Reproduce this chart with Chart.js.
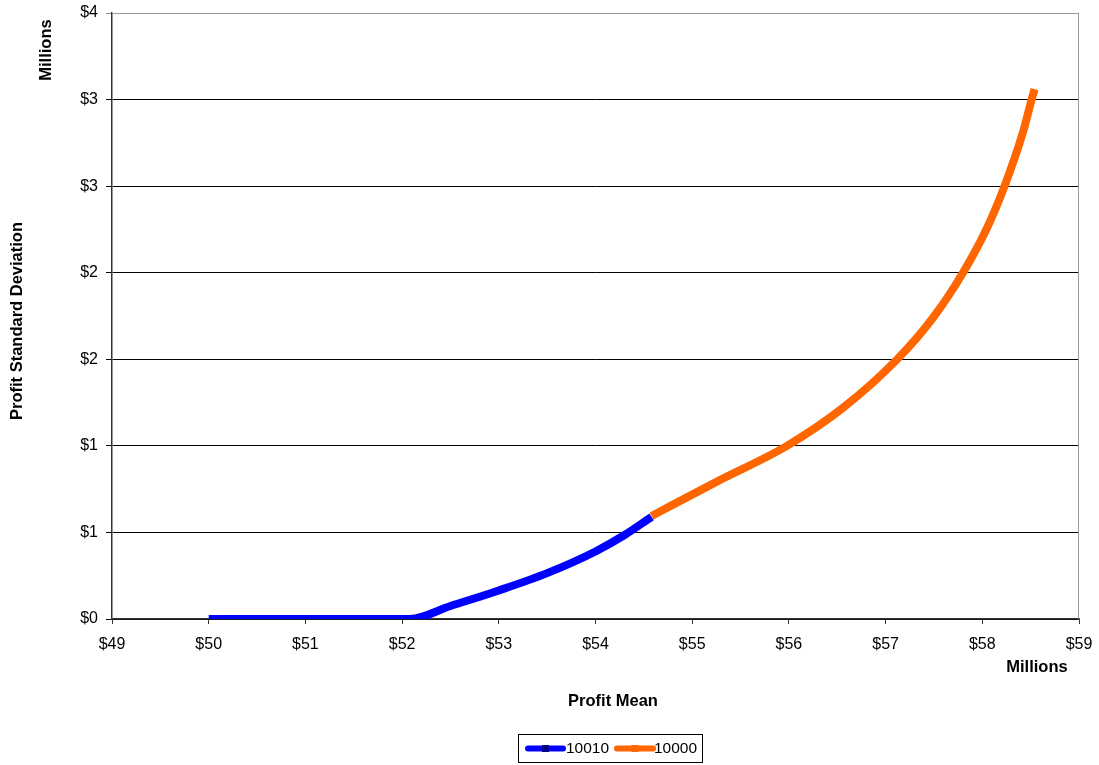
<!DOCTYPE html>
<html lang="en">
<head>
    <meta charset="UTF-8">
    <title>Profit Mean vs Standard Deviation</title>
    <script src="https://cdn.jsdelivr.net/npm/chart.js"></script>
    <style>
        html, body { margin: 0; padding: 0; background: #fff; }
        #wrap { width: 1099px; height: 765px; position: relative; }
    </style>
</head>
<body>
    <div id="wrap"><canvas id="graphique"></canvas></div>

    <script>
        // Values in millions of dollars
        const seriesNames = ['10010', '10000'];
        const meanA = [50, 51, 52.08, 52.5, 53, 53.5, 54, 54.3, 54.58];
        const sdA   = [0, 0, 0, 0.075, 0.165, 0.265, 0.39, 0.485, 0.59];
        const meanB = [54.58, 55.26, 55.98, 56.56, 57.12, 57.49, 57.8, 58.05, 58.23, 58.42, 58.51, 58.54];
        const sdB   = [0.595, 0.795, 1.0, 1.22, 1.5, 1.74, 2.0, 2.26, 2.5, 2.81, 3.0, 3.06];
        const colours = ['#0000FF', '#FF6600'];
        const markerColours = ['#000080', '#FF6600'];

        const toPoints = (xs, ys) => xs.map((x, i) => ({ x: x, y: ys[i] }));

        const FONT = '"Liberation Sans", Arial, sans-serif';

        // Titres, cadre du graphique et légende (style Excel)
        const extras = {
            id: 'extras',
            beforeDatasetsDraw(chart) {
                const a = chart.chartArea, ctx = chart.ctx;
                ctx.save();
                ctx.strokeStyle = '#999';
                ctx.lineWidth = 1;
                ctx.beginPath();
                ctx.moveTo(a.left, a.top + 0.5);
                ctx.lineTo(a.right - 0.5, a.top + 0.5);
                ctx.lineTo(a.right - 0.5, a.bottom);
                ctx.stroke();
                ctx.restore();
            },
            afterDraw(chart) {
                const ctx = chart.ctx;
                ctx.save();
                ctx.fillStyle = '#000';
                ctx.font = 'bold 16.5px ' + FONT;
                ctx.textAlign = 'center';
                ctx.textBaseline = 'middle';
                ctx.fillText('Profit Mean', 613, 701);
                ctx.fillText('Millions', 1037, 667);
                ctx.save();
                ctx.translate(17, 321);
                ctx.rotate(-Math.PI / 2);
                ctx.fillText('Profit Standard Deviation', 0, 0);
                ctx.restore();
                ctx.save();
                ctx.translate(46, 50);
                ctx.rotate(-Math.PI / 2);
                ctx.fillText('Millions', 0, 0);
                ctx.restore();

                // légende
                ctx.strokeStyle = '#000';
                ctx.lineWidth = 1;
                ctx.strokeRect(518.5, 734.5, 184, 28);
                const items = [{ x0: 528, x1: 563, tx: 566 }, { x0: 617, x1: 653, tx: 654 }];
                ctx.font = '15.5px ' + FONT;
                ctx.textAlign = 'left';
                items.forEach((it, i) => {
                    ctx.strokeStyle = colours[i];
                    ctx.lineWidth = 6;
                    ctx.lineCap = 'round';
                    ctx.beginPath();
                    ctx.moveTo(it.x0, 748.5);
                    ctx.lineTo(it.x1, 748.5);
                    ctx.stroke();
                    ctx.fillStyle = markerColours[i];
                    const mx = (it.x0 + it.x1) / 2;
                    ctx.fillRect(mx - 3.5, 745, 7, 7);
                    ctx.fillStyle = '#000';
                    ctx.fillText(chart.data.datasets[i].label, it.tx, 749);
                });
                ctx.restore();
            }
        };

        const lineChartCtx = document.getElementById('graphique').getContext('2d');
        const myChart = new Chart(lineChartCtx, {
            type: 'scatter',
            data: {
                datasets: [
                    { label: seriesNames[0], data: toPoints(meanA, sdA) },
                    { label: seriesNames[1], data: toPoints(meanB, sdB) }
                ].map((d, i) => Object.assign(d, {
                    showLine: true,
                    borderColor: colours[i],
                    backgroundColor: colours[i],
                    borderWidth: 8,
                    borderCapStyle: 'butt',
                    pointRadius: 0,
                    cubicInterpolationMode: 'monotone'
                }))
            },
            options: {
                responsive: true,
                maintainAspectRatio: false,
                animation: false,
                layout: { padding: { left: 0, right: 20, top: 13, bottom: 0 } },
                plugins: {
                    legend: { display: false },
                    tooltip: { enabled: false }
                },
                scales: {
                    x: {
                        type: 'linear',
                        min: 49,
                        max: 59,
                        afterFit: s => { s.height = 146; s.paddingLeft = 0; s.paddingRight = 0; },
                        ticks: {
                            stepSize: 1,
                            padding: 11,
                            color: '#000',
                            font: { family: FONT, size: 16 },
                            maxRotation: 0,
                            callback: v => '$' + v
                        },
                        grid: { drawOnChartArea: false, color: '#333', tickLength: 5 },
                        border: { color: '#333', width: 1.5 }
                    },
                    y: {
                        min: 0,
                        max: 3.5,
                        afterFit: s => { s.width = 112; s.paddingTop = 0; s.paddingBottom = 0; },
                        ticks: {
                            stepSize: 0.5,
                            padding: 8,
                            color: '#000',
                            font: { family: FONT, size: 16 },
                            callback: v => '$' + Math.round(v)
                        },
                        grid: {
                            color: c => (c.tick && c.tick.value === 3.5) ? '#999' : '#000',
                            tickLength: 6
                        },
                        border: { color: '#333', width: 1.5 }
                    }
                }
            },
            plugins: [extras]
        });
    </script>
</body>
</html>
